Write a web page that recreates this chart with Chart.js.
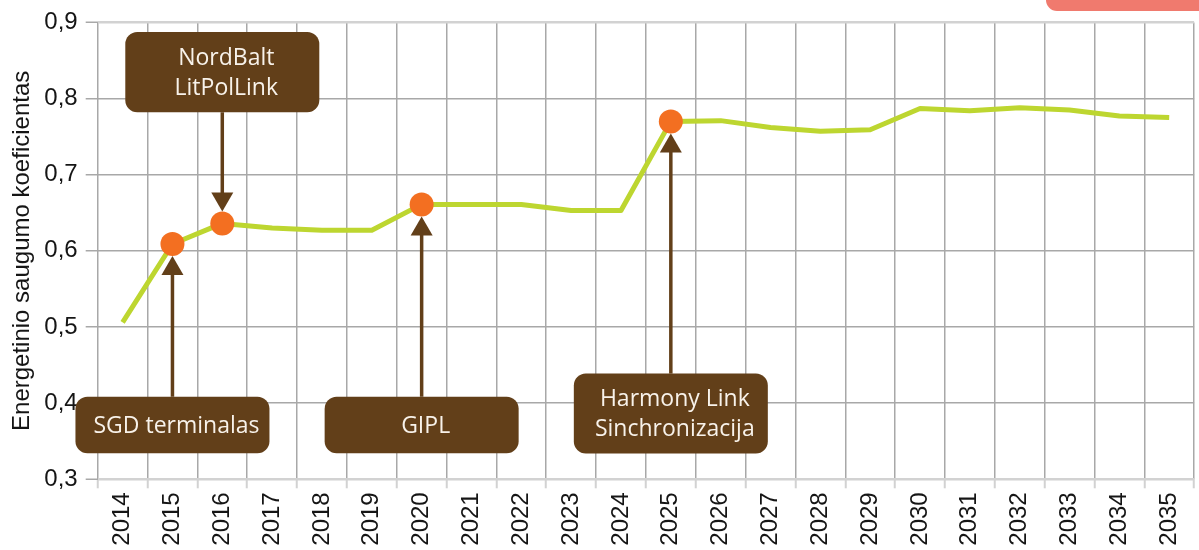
<!DOCTYPE html>
<html>
<head>
<meta charset="utf-8">
<script src="https://cdn.jsdelivr.net/npm/chart.js@4.4.1/dist/chart.umd.min.js"></script>
<style>
  html, body { margin: 0; padding: 0; background: #ffffff; overflow: hidden; width: 1199px; height: 550px; }
  #wrap { position: relative; width: 1202px; height: 550px; }
  #tab { position: absolute; left: 1046px; top: 0; width: 200px; height: 11px; background: #f07a6e; border-bottom-left-radius: 12px; }
</style>
</head>
<body>
<div id="wrap">
  <canvas id="c" width="1202" height="550"></canvas>
  <div id="tab"></div>
</div>
<script>
// ---- data ----
const years = ['2014','2015','2016','2017','2018','2019','2020','2021','2022','2023','2024',
               '2025','2026','2027','2028','2029','2030','2031','2032','2033','2034','2035'];
const coefficient = [0.506, 0.609, 0.636, 0.630, 0.627, 0.627, 0.661, 0.661, 0.661, 0.653, 0.653,
                     0.770, 0.771, 0.762, 0.757, 0.759, 0.787, 0.784, 0.788, 0.785, 0.777, 0.775];
const markerYears = ['2015', '2016', '2020', '2025'];
const markerLabels = [['SGD terminalas'], ['NordBalt', 'LitPolLink'], ['GIPL'], ['Harmony Link', 'Sinchronizacija']];
const yTicks = [0.3, 0.4, 0.5, 0.6, 0.7, 0.8, 0.9];
const yTitle = 'Energetinio saugumo koeficientas';

// ---- styling / layout ----
const boxLayout = [
  { top: 0.4084, bottom: 0.3342 },
  { top: 0.8874, bottom: 0.7820 },
  { top: 0.4084, bottom: 0.3342 },
  { top: 0.4388, bottom: 0.3338 }
];
const BOX_W = 194, BOX_R = 12, LINE_GAP = 30;
const ARROW_W = 22, ARROW_H = 19;
const BROWN = '#623f19', ORANGE = '#f36f21', GREEN = '#bdd630';
const GRID = '#a8a8a8', GRID_LIGHT = '#d2d2d2';
const axisFont = { family: '"Liberation Sans", Arial, sans-serif', size: 24 };

const markerIdx = markerYears.map(y => years.indexOf(y));
const pointRadii = years.map((y, i) => markerIdx.includes(i) ? 12 : 0);

const annotationPlugin = {
  id: 'annot',
  afterDatasetsDraw(chart) {
    const ctx = chart.ctx;
    const ys = chart.scales.y;
    const meta = chart.getDatasetMeta(0);
    ctx.save();
    markerIdx.forEach((idx, k) => {
      const pt = meta.data[idx];
      const px = pt.x, py = pt.y, r = pointRadii[idx];
      const bTop = ys.getPixelForValue(boxLayout[k].top);
      const bBot = ys.getPixelForValue(boxLayout[k].bottom);
      const below = bTop > py;
      ctx.strokeStyle = BROWN;
      ctx.fillStyle = BROWN;
      ctx.lineWidth = 3.5;
      ctx.beginPath();
      if (below) {
        ctx.moveTo(px, bTop);
        ctx.lineTo(px, py + r + ARROW_H - 1);
      } else {
        ctx.moveTo(px, bBot);
        ctx.lineTo(px, py - r - ARROW_H + 1);
      }
      ctx.stroke();
      ctx.beginPath();
      if (below) {
        const tip = py + r;
        ctx.moveTo(px, tip);
        ctx.lineTo(px - ARROW_W / 2, tip + ARROW_H);
        ctx.lineTo(px + ARROW_W / 2, tip + ARROW_H);
      } else {
        const tip = py - r;
        ctx.moveTo(px, tip);
        ctx.lineTo(px - ARROW_W / 2, tip - ARROW_H);
        ctx.lineTo(px + ARROW_W / 2, tip - ARROW_H);
      }
      ctx.closePath();
      ctx.fill();
      ctx.beginPath();
      ctx.roundRect(px - BOX_W / 2, bTop, BOX_W, bBot - bTop, BOX_R);
      ctx.fill();
      const lines = markerLabels[k];
      const cy = (bTop + bBot) / 2;
      ctx.fillStyle = '#f8f2ea';
      ctx.font = '23px "Open Sans", "Noto Sans", sans-serif';
      ctx.textAlign = 'center';
      ctx.textBaseline = 'middle';
      lines.forEach((t, j) => {
        const ly = cy + (j - (lines.length - 1) / 2) * LINE_GAP;
        ctx.fillText(t, px + 4, ly + 1);
      });
    });
    ctx.restore();
  }
};

const isEdge = v => Math.abs(v - yTicks[0]) < 1e-6 || Math.abs(v - yTicks[yTicks.length - 1]) < 1e-6;

new Chart(document.getElementById('c'), {
  type: 'line',
  data: {
    labels: years,
    datasets: [{
      data: coefficient,
      borderColor: GREEN,
      borderWidth: 5,
      tension: 0,
      fill: false,
      pointRadius: pointRadii,
      pointHoverRadius: pointRadii,
      pointBackgroundColor: ORANGE,
      pointBorderWidth: 0,
      borderCapStyle: 'butt',
      borderJoinStyle: 'round'
    }]
  },
  options: {
    responsive: false,
    animation: false,
    events: [],
    layout: { padding: { top: 18.3, left: 0, right: 0, bottom: 0 } },
    plugins: { legend: { display: false }, tooltip: { enabled: false } },
    scales: {
      x: {
        type: 'category',
        offset: true,
        border: { display: false },
        grid: {
          offset: true,
          color: GRID,
          lineWidth: 1.5,
          tickLength: 9,
          tickColor: GRID_LIGHT,
          tickWidth: 2
        },
        ticks: {
          font: axisFont,
          color: '#151515',
          minRotation: 90,
          maxRotation: 90,
          autoSkip: false,
          padding: 4
        },
        afterFit(s) { s.height = 70.7; }
      },
      y: {
        min: yTicks[0],
        max: yTicks[yTicks.length - 1],
        border: { display: false },
        afterBuildTicks(s) { s.ticks = yTicks.map(v => ({ value: v })); },
        grid: {
          color: c => isEdge(c.tick.value) ? GRID_LIGHT : GRID,
          lineWidth: c => isEdge(c.tick.value) ? 2.5 : 1.5,
          tickLength: 12,
          tickColor: GRID,
          tickWidth: 1.5
        },
        ticks: {
          font: axisFont,
          color: '#151515',
          padding: 8,
          callback: v => Number(v).toFixed(1).replace('.', ',')
        },
        title: {
          display: true,
          text: yTitle,
          font: axisFont,
          color: '#151515',
          padding: { top: 8, bottom: 0 }
        },
        afterFit(s) { s.width = 97.7; }
      }
    }
  },
  plugins: [annotationPlugin]
});
</script>
</body>
</html>
